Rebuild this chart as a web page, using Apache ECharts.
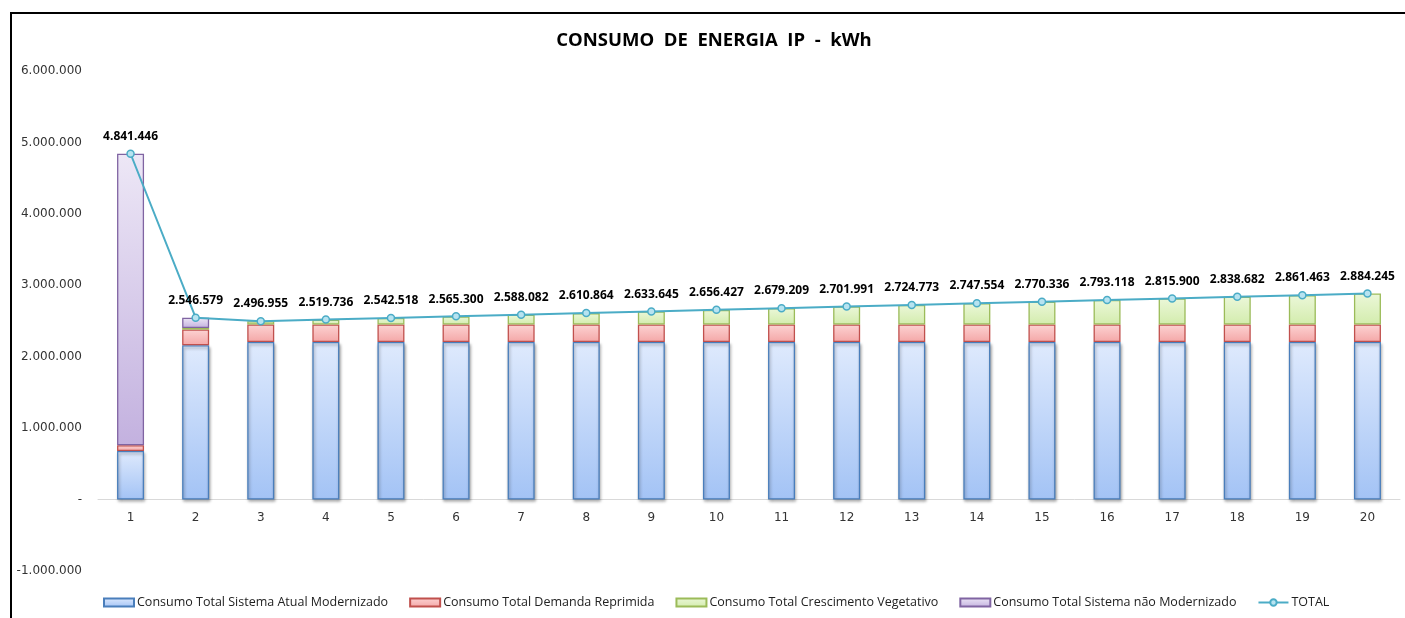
<!DOCTYPE html>
<html>
<head>
<meta charset="utf-8">
<script src="https://cdn.jsdelivr.net/npm/echarts@6/dist/echarts.min.js"></script>
<style>
html,body{margin:0;padding:0;background:#fff;}
#chart{position:absolute;left:0;top:0;width:1405px;height:618px;}
#frame{position:absolute;left:10px;top:12px;width:1400px;height:620px;border-left:2px solid #000;border-top:2px solid #000;pointer-events:none;}
</style>
</head>
<body>
<div id="chart"></div>
<div id="frame"></div>
<script>
const categories = ['1','2','3','4','5','6','7','8','9','10','11','12','13','14','15','16','17','18','19','20'];
const atualModernizado = [680000, 2160000, 2206000, 2206000, 2206000, 2206000, 2206000, 2206000, 2206000, 2206000, 2206000, 2206000, 2206000, 2206000, 2206000, 2206000, 2206000, 2206000, 2206000, 2206000];
const demandaReprimida = [80000, 220000, 245392, 245392, 245392, 245392, 245392, 245392, 245392, 245392, 245392, 245392, 245392, 245392, 245392, 245392, 245392, 245392, 245392, 245392];
const crescimentoVegetativo = [null, 22782, 45563, 68344, 91126, 113908, 136690, 159472, 182253, 205035, 227817, 250599, 273381, 296162, 318944, 341726, 364508, 387290, 410071, 432853];
const naoModernizado = [4081446, 143797, null, null, null, null, null, null, null, null, null, null, null, null, null, null, null, null, null, null];
const totals = [4841446, 2546579, 2496955, 2519736, 2542518, 2565300, 2588082, 2610864, 2633645, 2656427, 2679209, 2701991, 2724773, 2747554, 2770336, 2793118, 2815900, 2838682, 2861463, 2884245];
const seriesNames = ['Consumo Total Sistema Atual Modernizado','Consumo Total Demanda Reprimida','Consumo Total Crescimento Vegetativo','Consumo Total Sistema não Modernizado','TOTAL'];

function fmt(v){
  if (v === 0) return '-';
  const neg = v < 0;
  let s = Math.abs(Math.round(v)).toString().replace(/\B(?=(\d{3})+(?!\d))/g, '.');
  return (neg ? '-' : '') + s;
}
function grad(top, bottom){
  return new echarts.graphic.LinearGradient(0,0,0,1,[{offset:0,color:top},{offset:1,color:bottom}]);
}

const chart = echarts.init(document.getElementById('chart'), null, {renderer:'canvas'});
const barW = 27;
const option = {
  animation:false,
  backgroundColor:'#fff',
  title:{
    text:'CONSUMO  DE  ENERGIA  IP  -  kWh',
    left:709, top:26, textAlign:'center',
    textStyle:{fontFamily:'Open Sans', fontWeight:'bold', fontSize:18.5, color:'#000'}
  },
  legend:{
    left:103, top:596, padding:0,
    itemWidth:30, itemHeight:8, itemGap:21,
    textStyle:{fontFamily:'Open Sans', fontSize:12.5, color:'#222', padding:[0,0,0,-2]},
    data:[
      {name:seriesNames[0], icon:'rect'},
      {name:seriesNames[1], icon:'rect'},
      {name:seriesNames[2], icon:'rect'},
      {name:seriesNames[3], icon:'rect'},
      {name:seriesNames[4]}
    ]
  },
  grid:{left:98, right:5, top:71, bottom:47, containLabel:false},
  xAxis:{
    type:'category', data:categories, offset:-72,
    axisLine:{onZero:false, lineStyle:{color:'#d9d9d9', width:1}},
    axisTick:{show:false},
    axisLabel:{fontFamily:'DejaVu Sans', fontSize:12, color:'#333', margin:13}
  },
  yAxis:{
    type:'value', min:-1000000, max:6000000, interval:1000000,
    axisLine:{show:false}, axisTick:{show:false},
    splitLine:{show:false},
    axisLabel:{fontFamily:'DejaVu Sans', fontSize:12, color:'#333', margin:16, formatter:fmt}
  },
  series:[
    {name:seriesNames[0], type:'bar', stack:'t', barWidth:barW, data:atualModernizado,
     itemStyle:{color:grad('#dfeafd','#a3c3f5'), borderColor:'#4a7ebb', borderWidth:1.3,
       shadowColor:'rgba(0,0,0,0.35)', shadowBlur:3, shadowOffsetY:2, shadowOffsetX:1}},
    {name:seriesNames[1], type:'bar', stack:'t', barWidth:barW, data:demandaReprimida,
     itemStyle:{color:grad('#fcd3d3','#f4a7a7'), borderColor:'#c0504d', borderWidth:1.3}},
    {name:seriesNames[2], type:'bar', stack:'t', barWidth:barW, data:crescimentoVegetativo,
     itemStyle:{color:grad('#ebf7d8','#d3ecad'), borderColor:'#9bbb59', borderWidth:1.3}},
    {name:seriesNames[3], type:'bar', stack:'t', barWidth:barW, data:naoModernizado,
     itemStyle:{color:grad('#ede7f6','#c3b1df'), borderColor:'#8064a2', borderWidth:1.3}},
    {name:seriesNames[4], type:'line', data:totals, z:10,
     symbol:'circle', symbolSize:7,
     lineStyle:{color:'#4bacc6', width:2},
     itemStyle:{color:'#b7e3f0', borderColor:'#4bacc6', borderWidth:1.5},
     label:{show:true, position:'top', distance:7, formatter:p=>fmt(p.value),
       fontFamily:'Open Sans', fontWeight:'bold', fontSize:12, color:'#000'}}
  ]
};
chart.setOption(option);
</script>
</body>
</html>
